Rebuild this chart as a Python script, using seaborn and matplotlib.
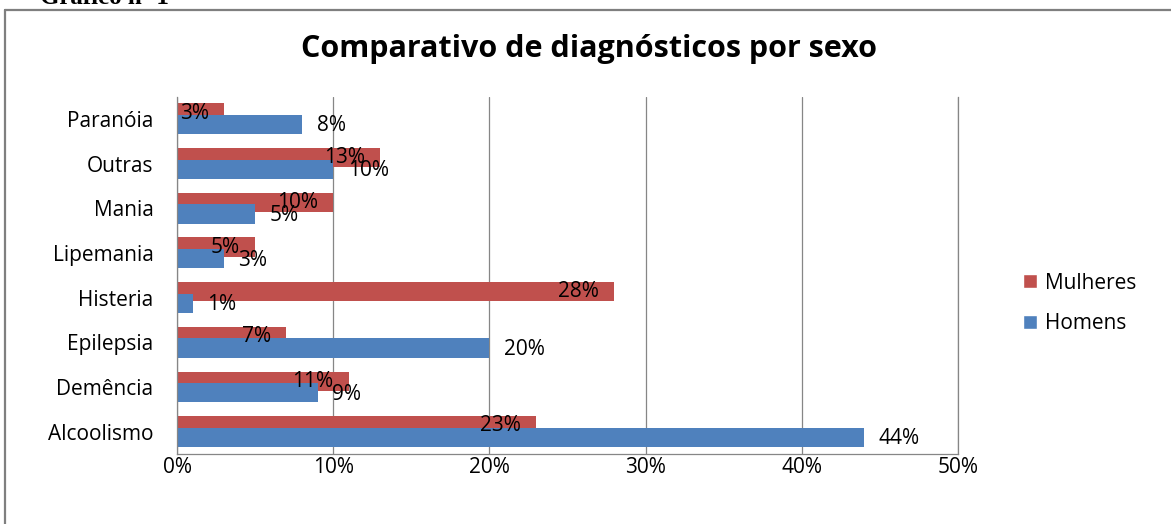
import pandas as pd
import matplotlib.pyplot as plt
import seaborn as sns
from matplotlib.lines import Line2D

# data (percent)
categories = ['Paranóia', 'Outras', 'Mania', 'Lipemania', 'Histeria', 'Epilepsia', 'Demência', 'Alcoolismo']
mulheres = [3, 13, 10, 5, 28, 7, 11, 23]
homens = [8, 10, 5, 3, 1, 20, 9, 44]
series_names = ['Mulheres', 'Homens']
x_ticks = [0, 10, 20, 30, 40, 50]

colors = {'Mulheres': '#C0504D', 'Homens': '#4F81BD'}
grey = '#868686'
fs = 15

# long form table for seaborn...
df = pd.DataFrame({
    'diagnostico': categories * 2,
    'sexo': ['Mulheres'] * len(categories) + ['Homens'] * len(categories),
    'pct': mulheres + homens,
})

sns.set_theme(style='white')
plt.rcParams['font.family'] = ['Open Sans', 'DejaVu Sans']
plt.rcParams['text.color'] = 'black'

fig = plt.figure(figsize=(11.71, 5.24), dpi=100)
ax = fig.add_axes([177 / 1171, 1 - 454 / 524, 781 / 1171, 357.5 / 524])

sns.barplot(
    data=df, y='diagnostico', x='pct', hue='sexo',
    hue_order=series_names, order=categories, palette=colors,
    orient='h', width=0.52, saturation=1, ax=ax
)

# excel style overlap: widen every bar around its own centre
bar_h = 0.43
for container in ax.containers:
    for bar in container:
        centre = bar.get_y() + bar.get_height() / 2
        bar.set_height(bar_h)
        bar.set_y(centre - bar_h / 2)
        bar.set_edgecolor('none')

# data labels: red inside end, blue outside end
for i, v in enumerate(mulheres):
    bar = ax.containers[0][i]
    ax.annotate(f'{v}%', (v, bar.get_y() + bar.get_height() / 2),
                xytext=(-11, 0), textcoords='offset points',
                ha='right', va='center', fontsize=fs, color='black')
for i, v in enumerate(homens):
    bar = ax.containers[1][i]
    ax.annotate(f'{v}%', (v, bar.get_y() + bar.get_height() / 2 + 0.03),
                xytext=(10.5, 0), textcoords='offset points',
                ha='left', va='center', fontsize=fs, color='black')

ax.set_xlim(0, 50)
ax.set_ylim(len(categories) - 0.5, -0.5)
ax.set_xticks(x_ticks)
ax.set_xticklabels([f'{t}%' for t in x_ticks])
ax.set_xlabel('')
ax.set_ylabel('')
ax.tick_params(axis='y', length=0, pad=17, labelsize=fs, labelcolor='black')
ax.tick_params(axis='x', length=0, pad=2, labelsize=fs, labelcolor='black')
ax.xaxis.grid(True, color=grey, linewidth=0.9)
ax.set_axisbelow(True)
ax.spines['top'].set_visible(False)
for side in ['left', 'bottom', 'right']:
    ax.spines[side].set_color(grey)
    ax.spines[side].set_linewidth(0.9)

sns.move_legend(
    ax, 'center left', bbox_to_anchor=(1.070, 0.421), frameon=False,
    title=None, fontsize=fs, handlelength=0.65, handleheight=0.65,
    handletextpad=0.4, labelspacing=0.95, borderpad=0
)

fig.text(589 / 1171, 1 - 49 / 524, 'Comparativo de diagnósticos por sexo',
         ha='center', va='center', fontsize=22, fontweight='bold', color='black')

# cut off caption above the chart frame
fig.text(40 / 1171, 1 - 4 / 524, 'Gráfico nº 1', ha='left', va='baseline',
         fontsize=18, fontweight='bold', family=['Liberation Serif', 'DejaVu Serif'])

# chart frame (only left and top edges show in the crop)
fig.add_artist(Line2D([5 / 1171, 5 / 1171], [0, 1 - 10 / 524], transform=fig.transFigure,
                      color='#7f7f7f', linewidth=1.6))
fig.add_artist(Line2D([5 / 1171, 1], [1 - 10 / 524, 1 - 10 / 524], transform=fig.transFigure,
                      color='#7f7f7f', linewidth=1.6))

fig.savefig('out.png', dpi=100)
